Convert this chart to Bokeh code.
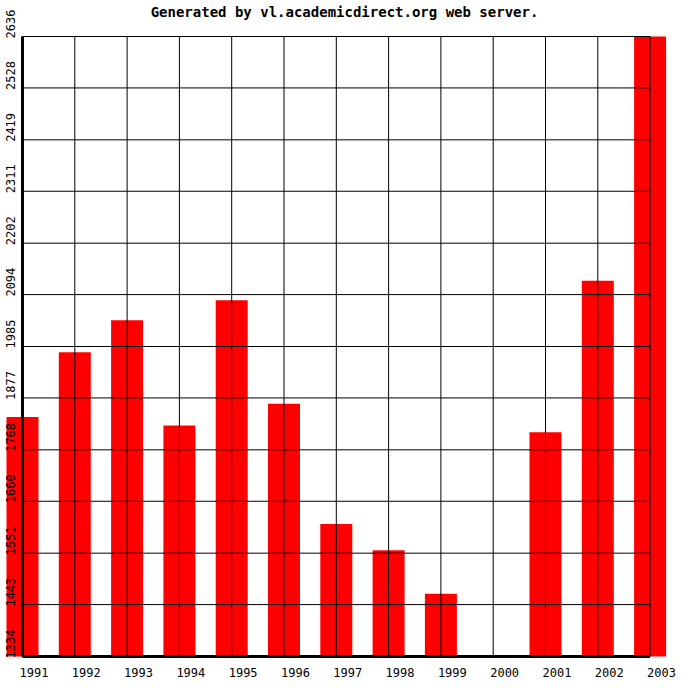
import math
from bokeh.plotting import figure
from bokeh.models import Label
from bokeh.core.properties import value
from bokeh.embed import file_html
from bokeh.resources import INLINE

# ---- data ----
years = ["1991", "1992", "1993", "1994", "1995", "1996", "1997",
         "1998", "1999", "2000", "2001", "2002", "2003"]
counts = [1837, 1973, 2040, 1819, 2082, 1865, 1612,
          1557, 1466, 1334, 1805, 2123, 2636]
y_ticks = [1334, 1443, 1551, 1660, 1768, 1877, 1985,
           2094, 2202, 2311, 2419, 2528, 2636]
title_text = "Generated by vl.academicdirect.org web server."

# ---- layout (pixels) ----
W, H = 684, 684
LEFT_PX, STEP_PX = 22, 52.3
TOP_PX, BOT_PX = 36, 656
BAR_PX = 32

idx = list(range(len(years)))
ymin, ymax = y_ticks[0], y_ticks[-1]
upp = (ymax - ymin) / (BOT_PX - TOP_PX)
x_start = -LEFT_PX / STEP_PX
x_end = x_start + W / STEP_PX
y_start = ymin - (H - BOT_PX) * upp
y_end = ymax + TOP_PX * upp

p = figure(width=W, height=H, output_backend="svg", toolbar_location=None,
           x_range=(x_start, x_end), y_range=(y_start, y_end),
           x_axis_type=None, y_axis_type=None,
           min_border=0, min_border_left=0, min_border_right=0,
           min_border_top=0, min_border_bottom=0)
p.outline_line_color = None
p.background_fill_color = "white"
p.border_fill_color = "white"

# bars
p.vbar(x=idx, top=counts, bottom=ymin, width=BAR_PX / STEP_PX,
       fill_color="#FF0000", line_color=None)

# grid (drawn over the bars, as in the reference)
p.segment(x0=[idx[0]] * len(y_ticks), x1=[idx[-1]] * len(y_ticks),
          y0=y_ticks, y1=y_ticks, line_color="black", line_width=1)
p.segment(x0=idx, x1=idx, y0=[ymin] * len(idx), y1=[ymax] * len(idx),
          line_color="black", line_width=1)

# thick axis lines
p.segment(x0=[idx[0]], x1=[idx[0]], y0=[ymin], y1=[ymax],
          line_color="black", line_width=3)
p.segment(x0=[idx[0]], x1=[idx[-1]], y0=[ymin], y1=[ymin],
          line_color="black", line_width=3)

mono = value("DejaVu Sans Mono")

# y tick labels (rotated, reading upward from each grid line)
p.text(x=[idx[0]] * len(y_ticks), y=y_ticks, text=[str(t) for t in y_ticks],
       angle=math.pi / 2, x_offset=-12, y_offset=2,
       text_align="left", text_baseline="middle",
       text_font=mono, text_font_size="12px", text_color="black")

# x labels
p.text(x=idx, y=[ymin] * len(idx), text=years,
       x_offset=-3, y_offset=16,
       text_align="left", text_baseline="alphabetic",
       text_font=mono, text_font_size="12px", text_color="black")

# title
p.add_layout(Label(x=W / 2 + 2, y=H - 3, x_units="screen", y_units="screen",
                   text=title_text, text_align="center", text_baseline="top",
                   text_font="DejaVu Sans Mono", text_font_size="14px",
                   text_font_style="bold", text_color="black"))

open("out.html", "w").write(file_html(p, INLINE))
